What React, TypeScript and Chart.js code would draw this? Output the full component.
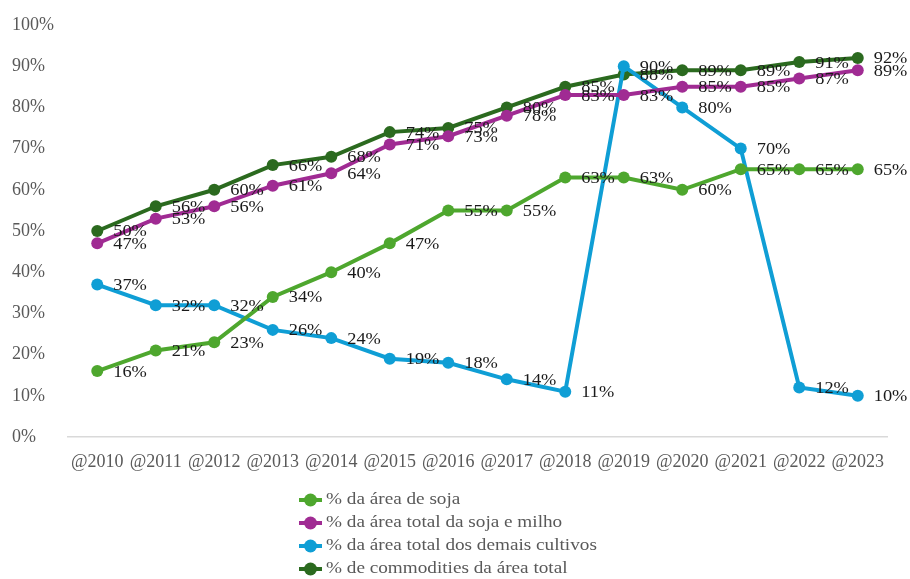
import React, { useEffect, useRef } from "react";
import { Chart, registerables } from "chart.js";

Chart.register(...registerables);

const years = ["@2010", "@2011", "@2012", "@2013", "@2014", "@2015", "@2016", "@2017", "@2018", "@2019", "@2020", "@2021", "@2022", "@2023"];
const soja = [16, 21, 23, 34, 40, 47, 55, 55, 63, 63, 60, 65, 65, 65];
const sojaMilho = [47, 53, 56, 61, 64, 71, 73, 78, 83, 83, 85, 85, 87, 89];
const demais = [37, 32, 32, 26, 24, 19, 18, 14, 11, 90, 80, 70, 12, 10];
const commodities = [50, 56, 60, 66, 68, 74, 75, 80, 85, 88, 89, 89, 91, 92];
const seriesNames = [
  "% da área de soja",
  "% da área total da soja e milho",
  "% da área total dos demais cultivos",
  "% de commodities da área total",
];
const colors = ["#4ea72e", "#a02b93", "#0f9ed5", "#2b6a1f"];

const SERIF = "'Liberation Serif', 'Times New Roman', serif";

const labelPlugin = {
  id: "pctLabels",
  afterDatasetsDraw(chart: any) {
    const ctx = chart.ctx;
    ctx.save();
    ctx.font = `17px ${SERIF}`;
    ctx.fillStyle = "#1a1a1a";
    ctx.textAlign = "left";
    ctx.textBaseline = "middle";
    chart.data.datasets.forEach((ds: any, i: number) => {
      const meta = chart.getDatasetMeta(i);
      meta.data.forEach((pt: any, j: number) => {
        const x = pt.x + 16;
        const y = pt.y + 1;
        ctx.save();
        ctx.translate(x, y);
        ctx.scale(1.08, 1);
        ctx.fillText(ds.data[j] + "%", 0, 0);
        ctx.restore();
      });
    });
    ctx.restore();
  },
  afterDraw(chart: any) {
    const ctx = chart.ctx;
    ctx.save();
    const rowY = [500, 523, 546, 569];
    chart.data.datasets.forEach((ds: any, i: number) => {
      const y = rowY[i];
      ctx.strokeStyle = ds.borderColor;
      ctx.lineWidth = 4;
      ctx.beginPath();
      ctx.moveTo(299, y);
      ctx.lineTo(322, y);
      ctx.stroke();
      ctx.fillStyle = ds.borderColor;
      ctx.beginPath();
      ctx.arc(310.5, y, 6.5, 0, Math.PI * 2);
      ctx.fill();
      ctx.font = `16px ${SERIF}`;
      ctx.fillStyle = "#595959";
      ctx.textAlign = "left";
      ctx.textBaseline = "middle";
      ctx.save();
      ctx.translate(326, y);
      ctx.scale(1.2, 1);
      ctx.fillText(ds.label, 0, 0);
      ctx.restore();
    });
    ctx.restore();
  },
};

export default function App() {
  const ref = useRef<HTMLCanvasElement>(null);
  useEffect(() => {
    document.body.style.margin = "0";
    const datasets = [soja, sojaMilho, demais, commodities].map((d, i) => ({
      label: seriesNames[i],
      data: d,
      borderColor: colors[i],
      backgroundColor: colors[i],
      borderWidth: 4,
      pointRadius: 6,
      pointBorderWidth: 0,
      pointBackgroundColor: colors[i],
      tension: 0,
    }));
    const chart = new Chart(ref.current as HTMLCanvasElement, {
      type: "line",
      data: { labels: years, datasets },
      options: {
        animation: false,
        responsive: false,
        maintainAspectRatio: false,
        layout: { padding: { left: 12, right: 23, top: 25, bottom: 104 } },
        plugins: { legend: { display: false }, tooltip: { enabled: false } },
        scales: {
          x: {
            offset: true,
            grid: { display: false, drawTicks: false },
            border: { display: true, color: "#d9d9d9", width: 1.5 },
            ticks: {
              color: "#595959",
              font: { family: SERIF, size: 18 },
              padding: 14,
              maxRotation: 0,
              autoSkip: false,
            },
            afterFit: (s: any) => { s.height = 38; },
          },
          y: {
            min: 0,
            max: 100,
            grid: { display: false, drawTicks: false },
            border: { display: false },
            ticks: {
              stepSize: 10,
              crossAlign: "far",
              color: "#595959",
              font: { family: SERIF, size: 18 },
              callback: (v: any) => v + "%",
            },
            afterFit: (s: any) => { s.width = 56; },
          },
        },
      },
      plugins: [labelPlugin],
    });
    return () => chart.destroy();
  }, []);
  return (
    <div style={{ width: 910, height: 579, position: "relative" }}>
      <canvas ref={ref} width={910} height={579} />
    </div>
  );
}
